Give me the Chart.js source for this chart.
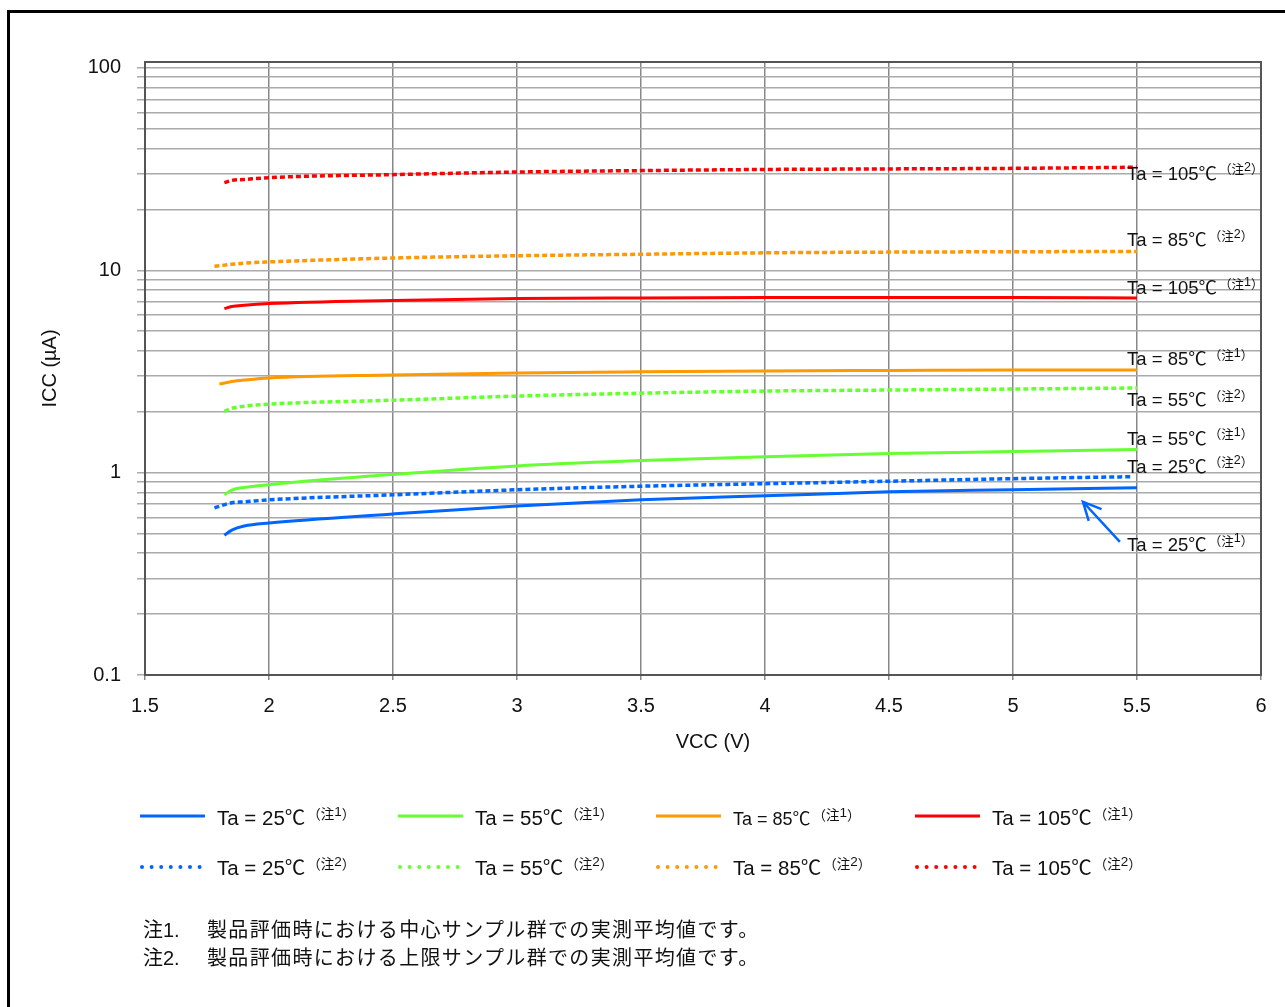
<!DOCTYPE html>
<html>
<head>
<meta charset="utf-8">
<script src="https://cdn.jsdelivr.net/npm/chart.js@4.4.1/dist/chart.umd.min.js"></script>
<style>
  body { margin: 0; background: #fff; }
  #wrap { position: relative; width: 1285px; height: 1007px; overflow: hidden; }
  #frame { position: absolute; left: 7px; top: 10px; width: 1300px; height: 1010px;
           border-left: 3px solid #000; border-top: 3px solid #000; }
  #chart { position: absolute; left: 0; top: 0; }
  .notes { position: absolute; left: 143px; top: 916px; font: 20px 'Liberation Sans', Arial, 'Noto Sans CJK JP', sans-serif;
           color: #111; line-height: 28px; }
  .notes span { display: inline-block; width: 64px; letter-spacing: 0; }
  .notes b { font-weight: normal; letter-spacing: 1.35px; }
</style>
</head>
<body>
<div id="wrap">
  <div id="frame"></div>
  <canvas id="chart" width="1285" height="1007"></canvas>
  <div class="notes">
    <div><span>注1.</span><b>製品評価時における中心サンプル群での実測平均値です。</b></div>
    <div><span>注2.</span><b>製品評価時における上限サンプル群での実測平均値です。</b></div>
  </div>
</div>
<script>
// VCC (V) sample points
const vccMain = [1.82, 1.85, 1.9, 2, 2.5, 3, 3.5, 4, 4.5, 5, 5.5];
const vccLow  = [1.78, 1.85, 1.9, 2, 2.5, 3, 3.5, 4, 4.5, 5, 5.5];
const vccBlueDot = [1.78, 1.85, 1.9, 2, 2.5, 3, 3.5, 4, 4.5, 5, 5.48];
const vccOrange = [1.8, 1.85, 1.9, 2, 2.5, 3, 3.5, 4, 4.5, 5, 5.5];

// ICC (uA)
const icc25c  = [0.49, 0.52, 0.545, 0.564, 0.625, 0.685, 0.734, 0.768, 0.804, 0.823, 0.842];
const icc55c  = [0.777, 0.82, 0.845, 0.872, 0.98, 1.08, 1.147, 1.2, 1.243, 1.272, 1.302];
const icc85c  = [2.74, 2.82, 2.87, 2.94, 3.04, 3.11, 3.15, 3.18, 3.2, 3.22, 3.22];
const icc105c = [6.47, 6.62, 6.72, 6.85, 7.1, 7.25, 7.3, 7.33, 7.34, 7.34, 7.3];
const icc25u  = [0.67, 0.71, 0.717, 0.734, 0.777, 0.823, 0.857, 0.882, 0.907, 0.934, 0.955];
const icc55u  = [2.01, 2.08, 2.13, 2.18, 2.28, 2.39, 2.47, 2.53, 2.56, 2.59, 2.62];
const icc85u  = [10.47, 10.7, 10.85, 11.0, 11.5, 11.8, 12.0, 12.2, 12.3, 12.35, 12.4];
const icc105u = [27.1, 27.8, 28.1, 28.7, 29.7, 30.6, 31.1, 31.5, 31.7, 31.9, 32.3];

const seriesNames = ['Ta = 25℃', 'Ta = 55℃', 'Ta = 85℃', 'Ta = 105℃'];
const seriesColors = ['#0066ff', '#66ff33', '#ff9900', '#ff0000'];

// right-hand labels
const labelText = ['Ta = 105℃', 'Ta = 85℃', 'Ta = 105℃', 'Ta = 85℃', 'Ta = 55℃', 'Ta = 55℃', 'Ta = 25℃', 'Ta = 25℃'];
const labelNote = ['2', '2', '1', '1', '2', '1', '2', '1'];
const labelIcc = [30.4, 14.3, 8.27, 3.67, 2.30, 1.49, 1.083, 0.445];
const labelVcc = 5.46;

const iccLabels = [0.1, 1, 10, 100];
const iccTicks = [];
[0.1, 1, 10].forEach(d => { for (let m = 1; m < 10; m++) iccTicks.push(+(d * m).toPrecision(3)); });
iccTicks.push(100);

const FONT = "'Liberation Sans', Arial, 'Noto Sans CJK JP', sans-serif";
Chart.defaults.font.family = FONT;
Chart.defaults.color = '#111';

function pts(xs, ys) { return xs.map((v, i) => ({ x: v, y: ys[i] })); }

function line(data, color, dotted) {
  return {
    data: data,
    borderColor: color,
    borderWidth: dotted ? 3.5 : 3,
    borderDash: dotted ? [5, 3] : [],
    pointRadius: 0,
    cubicInterpolationMode: 'monotone',
    fill: false
  };
}

// note like "（注1）" with raised digit
function drawNote(ctx, text, n, px, py, size, small) {
  ctx.fillStyle = '#111';
  ctx.textAlign = 'left';
  ctx.textBaseline = 'alphabetic';
  ctx.font = size + 'px ' + FONT;
  ctx.fillText(text, px, py);
  let cx = px + ctx.measureText(text).width + 2;
  ctx.font = small + 'px ' + FONT;
  ctx.fillText('（注', cx, py - size * 0.28);
  cx += ctx.measureText('（注').width;
  ctx.fillText(n, cx, py - size * 0.45);
  cx += ctx.measureText(n).width;
  ctx.fillText('）', cx, py - size * 0.28);
}

const extras = {
  id: 'extras',
  afterDraw(chart) {
    const { ctx, chartArea: a, scales: { x, y } } = chart;
    ctx.save();
    ctx.strokeStyle = '#555';
    ctx.lineWidth = 2;
    ctx.strokeRect(a.left, a.top, a.right - a.left, a.bottom - a.top);

    labelText.forEach((t, i) => {
      drawNote(ctx, t, labelNote[i], x.getPixelForValue(labelVcc), y.getPixelForValue(labelIcc[i]) + 7, 18.5, 12.5);
    });

    // arrow to 25C line
    const x0 = x.getPixelForValue(5.431), y0 = y.getPixelForValue(0.455);
    const x1 = x.getPixelForValue(5.282), y1 = y.getPixelForValue(0.718);
    const ang = Math.atan2(y1 - y0, x1 - x0);
    ctx.strokeStyle = '#0066ff';
    ctx.lineWidth = 2.5;
    ctx.beginPath();
    ctx.moveTo(x0, y0); ctx.lineTo(x1, y1);
    ctx.moveTo(x1 - 20 * Math.cos(ang - 0.45), y1 - 20 * Math.sin(ang - 0.45));
    ctx.lineTo(x1, y1);
    ctx.lineTo(x1 - 20 * Math.cos(ang + 0.45), y1 - 20 * Math.sin(ang + 0.45));
    ctx.stroke();

    // legend
    const cols = [140, 398, 656, 915];
    seriesNames.forEach((nm, i) => {
      const lx = cols[i];
      ctx.strokeStyle = seriesColors[i];
      ctx.lineWidth = 3;
      ctx.beginPath();
      ctx.moveTo(lx, 816); ctx.lineTo(lx + 65, 816);
      ctx.stroke();
      ctx.fillStyle = seriesColors[i];
      for (let k = 0; k < 7; k++) {
        ctx.beginPath();
        ctx.arc(lx + 2 + k * 9.6, 867, 2, 0, Math.PI * 2);
        ctx.fill();
      }
      drawNote(ctx, nm, '1', lx + 77, 825, i === 2 ? 18 : 20.5, 13.5);
      drawNote(ctx, nm, '2', lx + 77, 875, 20.5, 13.5);
    });

    // axis title for x, slightly right of centre as in the source
    ctx.fillStyle = '#111';
    ctx.font = '20px ' + FONT;
    ctx.textAlign = 'center';
    ctx.textBaseline = 'middle';
    ctx.fillText('VCC (V)', (a.left + a.right) / 2 + 10, 742);
    ctx.restore();
  }
};

new Chart(document.getElementById('chart'), {
  type: 'line',
  data: {
    datasets: [
      line(pts(vccMain, icc25c), seriesColors[0], false),
      line(pts(vccMain, icc55c), seriesColors[1], false),
      line(pts(vccOrange, icc85c), seriesColors[2], false),
      line(pts(vccMain, icc105c), seriesColors[3], false),
      line(pts(vccBlueDot, icc25u), seriesColors[0], true),
      line(pts(vccMain, icc55u), seriesColors[1], true),
      line(pts(vccLow, icc85u), seriesColors[2], true),
      line(pts(vccMain, icc105u), seriesColors[3], true)
    ]
  },
  options: {
    responsive: false,
    animation: false,
    layout: { padding: { left: 0, top: 62, right: 24, bottom: 247 } },
    plugins: { legend: { display: false }, tooltip: { enabled: false } },
    scales: {
      x: {
        type: 'linear',
        min: 1.5,
        max: 6,
        afterFit: s => { s.height = 85; },
        ticks: { stepSize: 0.5, padding: 14, font: { size: 20 }, color: '#111', maxRotation: 0,
                 callback: v => String(v) },
        grid: { color: '#888', lineWidth: 1.5, tickLength: 5 },
        border: { color: '#555', width: 2 },
        title: { display: false }
      },
      y: {
        type: 'logarithmic',
        min: 0.1,
        max: 107,
        afterFit: s => { s.width = 145; },
        afterBuildTicks: s => { s.ticks = iccTicks.map(v => ({ value: v })); },
        ticks: { padding: 16, font: { size: 20 }, color: '#111', autoSkip: false,
                 callback: v => iccLabels.includes(v) ? String(v) : '' },
        grid: { color: '#aaa', lineWidth: 1.5, tickLength: 8 },
        border: { color: '#555', width: 2 },
        title: { display: true, text: 'ICC (µA)', font: { size: 20 }, color: '#111', padding: { top: 38 } }
      }
    }
  },
  plugins: [extras]
});
</script>
</body>
</html>
